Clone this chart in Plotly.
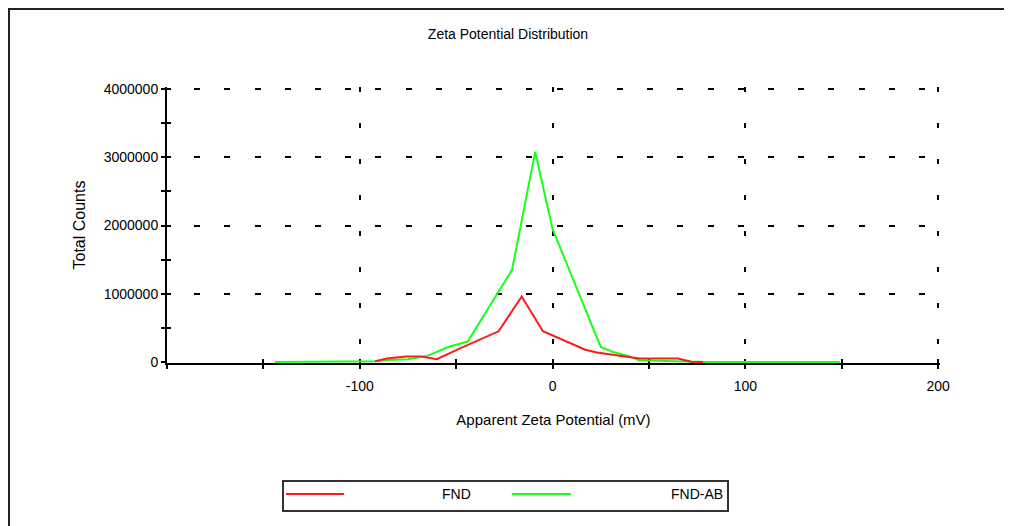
import plotly.graph_objects as go

# ---- data ----
title_text = "Zeta Potential Distribution"
x_title = "Apparent Zeta Potential (mV)"
y_title = "Total Counts"

fnd_name = "FND"
fnd_x = [-92, -86, -76, -68, -60, -48, -28, -16, -5, 5, 17, 23, 33, 45, 56, 65, 72, 78]
fnd_y = [10000, 50000, 80000, 80000, 40000, 200000, 450000, 960000, 450000, 330000,
         180000, 140000, 100000, 50000, 50000, 50000, 5000, 0]

fndab_name = "FND-AB"
fndab_x = [-144, -100, -92, -85, -75, -65, -54, -44, -21, -9, 0, 25, 31, 40, 45, 78, 149]
fndab_y = [0, 0, 10000, 30000, 40000, 90000, 220000, 300000, 1350000, 3080000, 1950000,
           220000, 150000, 80000, 25000, 0, 0]

x_tickvals = [-100, 0, 100, 200]
y_tickvals = [0, 1000000, 2000000, 3000000, 4000000]
x_range = [-200, 201]
y_range = [-14650, 4030000]

RED = "#ff1a1a"
GREEN = "#1aff1a"
FONT = "Liberation Sans, Arial, sans-serif"

# page has an 8px body margin: figure coords = page coords - 8
OFF = 8
W, H = 1000, 518
L, T = 159, 79
pw, ph = 773, 276
R, B = W - L - pw, H - T - ph


def px_x(p):
    return (p - OFF - L) / pw


def px_y(p):
    return (H - B - (p - OFF)) / ph


fig = go.Figure()
fig.add_trace(go.Scatter(x=fndab_x, y=fndab_y, mode="lines", name=fndab_name,
                         line=dict(color=GREEN, width=2), showlegend=False))
fig.add_trace(go.Scatter(x=fnd_x, y=fnd_y, mode="lines", name=fnd_name,
                         line=dict(color=RED, width=2), showlegend=False))
# empty trace to anchor overlay axes (inside tick marks)
fig.add_trace(go.Scatter(x=[None], y=[None], xaxis="x2", yaxis="y2",
                         showlegend=False, hoverinfo="skip"))

axis_common = dict(showline=True, linecolor="black", linewidth=2, zeroline=False,
                   ticks="outside", ticklen=4, tickwidth=1.5, tickcolor="black",
                   layer="below traces",
                   tickfont=dict(family=FONT, size=14, color="black"))

fig.update_layout(
    width=W, height=H,
    margin=dict(l=L, r=R, t=T, b=B),
    paper_bgcolor="white", plot_bgcolor="white",
    font=dict(family=FONT, size=14, color="black"),
    title=dict(text=title_text, x=0.5, xref="container",
               y=1 - 26 / H, yanchor="middle", xanchor="center",
               font=dict(family=FONT, size=14, color="black")),
    xaxis=dict(range=x_range, tickvals=x_tickvals, ticktext=[str(v) for v in x_tickvals],
               showgrid=True, gridcolor="black", gridwidth=1.5, griddash="5px,31px",
               ticklabelstandoff=5,
               minor=dict(dtick=50, tick0=-200, ticks="outside", ticklen=4,
                          tickwidth=1.5, tickcolor="black", showgrid=False),
               title=dict(text=x_title, standoff=22, font=dict(family=FONT, size=15)),
               **axis_common),
    yaxis=dict(range=y_range, tickvals=y_tickvals, tickformat="d",
               showgrid=True, gridcolor="black", gridwidth=1.5,
               griddash="3px,24.2px,3px,0px",
               minor=dict(dtick=500000, tick0=0, ticks="outside", ticklen=4,
                          tickwidth=1.5, tickcolor="black", showgrid=False),
               title=dict(text=y_title, standoff=14, font=dict(family=FONT, size=16)),
               **axis_common),
    xaxis2=dict(range=x_range, overlaying="x", anchor="y", side="bottom",
                showline=False, showgrid=False, zeroline=False, showticklabels=False,
                layer="below traces",
                tickvals=x_tickvals, ticks="inside", ticklen=4, tickwidth=1.5,
                tickcolor="black",
                minor=dict(dtick=50, tick0=-200, ticks="inside", ticklen=4,
                           tickwidth=1.5, tickcolor="black", showgrid=False)),
    yaxis2=dict(range=y_range, overlaying="y", anchor="x", side="left",
                showline=False, showgrid=False, zeroline=False, showticklabels=False,
                layer="below traces",
                tickvals=y_tickvals, ticks="inside", ticklen=4, tickwidth=1.5,
                tickcolor="black",
                minor=dict(dtick=500000, tick0=0, ticks="inside", ticklen=4,
                           tickwidth=1.5, tickcolor="black", showgrid=False)),
)

# outer frame
fig.add_shape(type="rect", xref="paper", yref="paper",
              x0=px_x(OFF + 1), x1=px_x(1007), y0=px_y(560), y1=px_y(OFF + 1),
              line=dict(color="#222", width=2), fillcolor="rgba(0,0,0,0)", layer="below")

# custom legend box
fig.add_shape(type="rect", xref="paper", yref="paper",
              x0=px_x(283), x1=px_x(728), y0=px_y(511), y1=px_y(481),
              line=dict(color="#333", width=2), fillcolor="white")
leg_y = px_y(494)
fig.add_shape(type="line", xref="paper", yref="paper",
              x0=px_x(286), x1=px_x(344), y0=leg_y, y1=leg_y,
              line=dict(color=RED, width=2))
fig.add_shape(type="line", xref="paper", yref="paper",
              x0=px_x(512), x1=px_x(571), y0=leg_y, y1=leg_y,
              line=dict(color=GREEN, width=2))
fig.add_annotation(text=fnd_name, xref="paper", yref="paper", x=px_x(473), y=leg_y,
                   xanchor="right", yanchor="middle", showarrow=False,
                   font=dict(family=FONT, size=14, color="black"))
fig.add_annotation(text=fndab_name, xref="paper", yref="paper", x=px_x(725), y=leg_y,
                   xanchor="right", yanchor="middle", showarrow=False,
                   font=dict(family=FONT, size=14, color="black"))

fig.write_html("out.html")
